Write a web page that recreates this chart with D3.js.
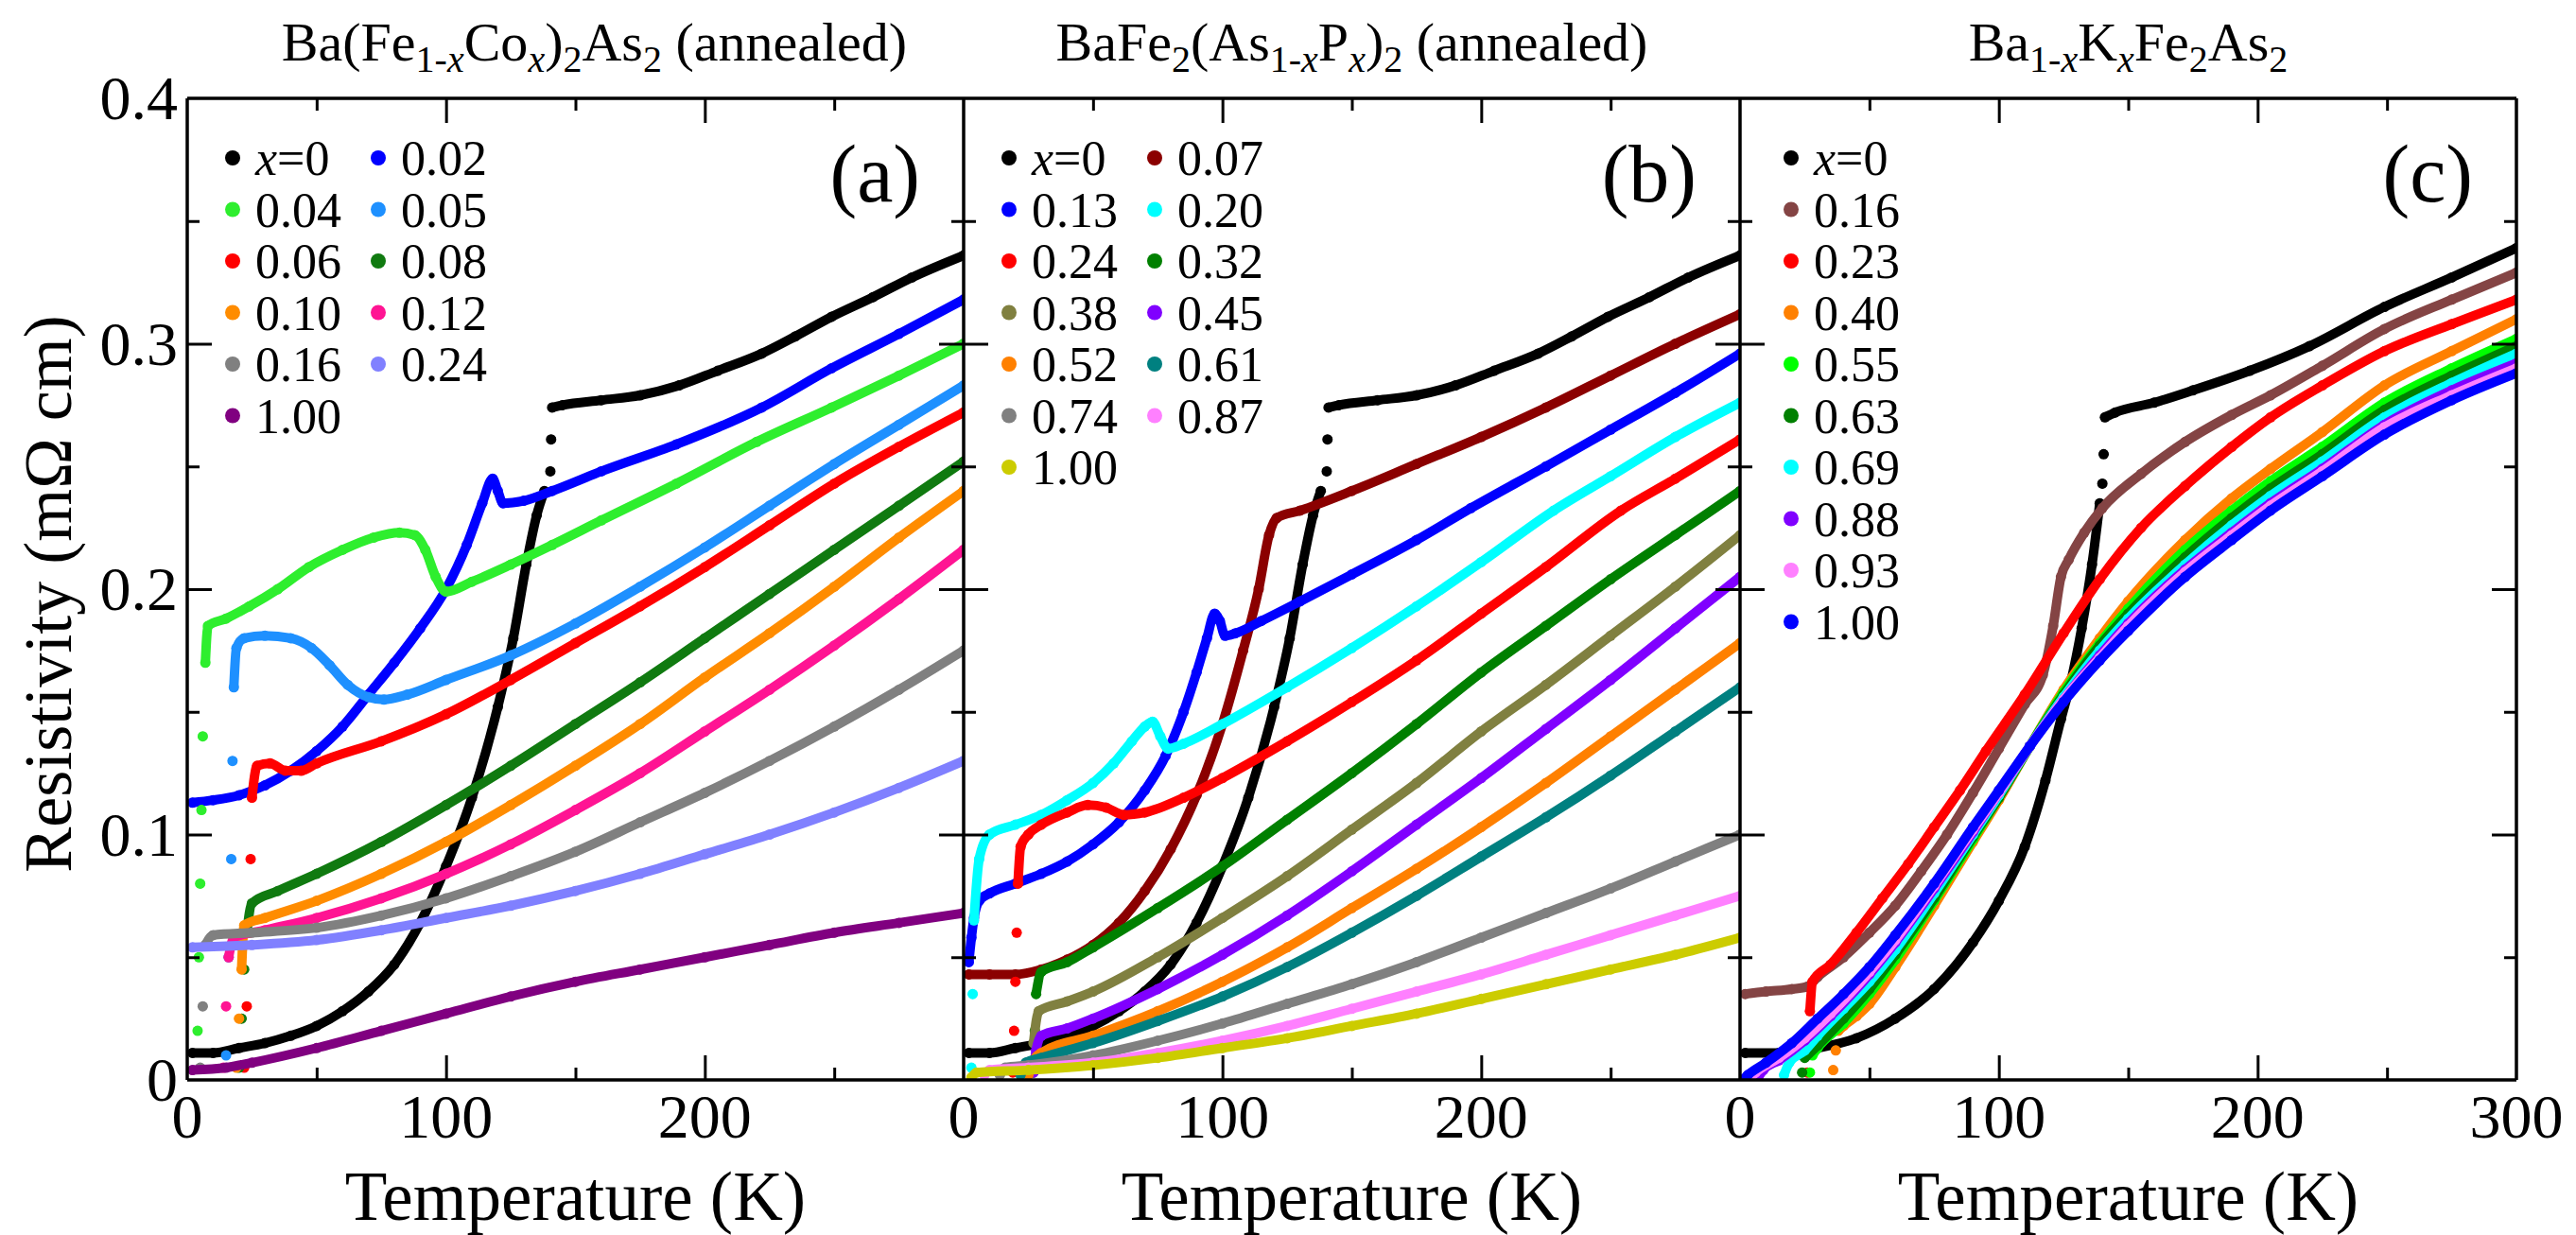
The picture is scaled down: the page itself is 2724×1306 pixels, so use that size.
<!DOCTYPE html>
<html><head><meta charset="utf-8">
<script src="https://cdn.jsdelivr.net/npm/d3@7"></script>
<style>
body{margin:0;background:#fff}
svg{display:block}
text{font-family:"Liberation Serif","Times New Roman",serif;fill:#000}
</style>
</head><body>
<svg id="chart" width="2724" height="1306"></svg>
<script>
// ---------------- DATA ----------------
const xTickMajor = [100, 200];
const xTickMinor = [50, 150, 250];
const yTickMajor = [0.1, 0.2, 0.3];
const yTickMinor = [0.05, 0.15, 0.25, 0.35];
const yTickLabels = [0, 0.1, 0.2, 0.3, 0.4];
const xTickLabelsA = [0, 100, 200];
const xTickLabelsB = [0, 100, 200];
const xTickLabelsC = [0, 100, 200, 300];

const labelsA = ["x=0","0.02","0.04","0.05","0.06","0.08","0.10","0.12","0.16","0.24","1.00"];
const colorsA = ["#000000","#0000ff","#2eee2e","#1e90ff","#ff0000","#107a10","#ff8c00","#ff1493","#808080","#8080ff","#800080"];
const labelsB = ["x=0","0.07","0.13","0.20","0.24","0.32","0.38","0.45","0.52","0.61","0.74","0.87","1.00"];
const colorsB = ["#000000","#8b0000","#0000ff","#00ffff","#ff0000","#008000","#808040","#8000ff","#ff8000","#008080","#808080","#ff80ff","#cccc00"];
const labelsC = ["x=0","0.16","0.23","0.40","0.55","0.63","0.69","0.88","0.93","1.00"];
const colorsC = ["#000000","#844444","#ff0000","#ff8000","#00ff00","#008000","#00ffff","#8000ff","#ff80ff","#0000ff"];

// Panel (a): Ba(Fe1-xCox)2As2 ; [T (K), rho (mOhm cm)], null = gap between measured points
const A_000 = [[2,0.011],[10,0.011],[20,0.013],[30,0.015],[40,0.018],[50,0.022],[60,0.028],[70,0.036],[80,0.047],[90,0.064],[100,0.087],[110,0.115],[120,0.152],[126,0.18],[131,0.21],[135,0.23],[138,0.24],null,[140.3,0.248],null,[140.6,0.261],null,[141,0.274],[145,0.275],[160,0.277],[175,0.279],[190,0.283],[205,0.289],[222,0.296],[235,0.303],[249,0.311],[265,0.319],[280,0.327],[300,0.336]];
const A_002 = [[2,0.113],[10,0.114],[20,0.116],[30,0.12],[40,0.126],[50,0.134],[60,0.144],[70,0.157],[80,0.17],[90,0.184],[100,0.2],[108,0.218],[114,0.235],[118,0.245],[120,0.24],[122,0.235],[130,0.236],[141,0.24],[160,0.248],[189,0.259],[222,0.274],[249,0.29],[275,0.304],[300,0.318]];
const A_004 = [[4,0.02],null,[4.5,0.05],null,[5,0.08],null,[5.5,0.11],null,[6,0.14],null,[7,0.17],[8,0.185],[15,0.188],[24,0.193],[35,0.2],[47,0.209],[60,0.216],[72,0.221],[82,0.223],[88,0.222],[92,0.216],[96,0.205],[100,0.199],[110,0.203],[125,0.21],[141,0.218],[160,0.228],[189,0.243],[220,0.26],[249,0.274],[275,0.287],[300,0.3]];
const A_005 = [[15,0.01],null,[16,0.05],null,[17,0.09],null,[17.5,0.13],null,[18,0.16],[19,0.176],[22,0.18],[30,0.181],[40,0.18],[48,0.176],[55,0.169],[62,0.161],[70,0.156],[76,0.155],[85,0.157],[100,0.163],[125,0.173],[150,0.186],[175,0.201],[200,0.217],[225,0.234],[250,0.251],[275,0.267],[300,0.283]];
const A_006 = [[22,0.005],null,[23,0.03],null,[24,0.06],null,[24.5,0.09],null,[25,0.115],[27,0.128],[32,0.129],[38,0.126],[44,0.126],[50,0.129],[75,0.138],[100,0.149],[125,0.163],[150,0.178],[175,0.193],[200,0.209],[225,0.226],[250,0.243],[275,0.258],[300,0.272]];
const A_008 = [[20,0.005],null,[21,0.025],null,[22,0.045],null,[23,0.06],[25,0.072],[35,0.077],[50,0.084],[75,0.097],[100,0.112],[125,0.128],[150,0.145],[175,0.162],[200,0.18],[225,0.198],[250,0.216],[275,0.234],[300,0.252]];
const A_010 = [[19,0.005],null,[20,0.025],null,[21,0.045],[22,0.063],[30,0.066],[50,0.073],[75,0.084],[100,0.097],[125,0.112],[150,0.128],[175,0.145],[200,0.164],[225,0.182],[250,0.201],[275,0.221],[300,0.24]];
const A_012 = [[14,0.005],null,[15,0.03],null,[16,0.05],[18,0.058],[30,0.061],[50,0.066],[75,0.074],[100,0.084],[125,0.096],[150,0.11],[175,0.125],[200,0.142],[225,0.159],[250,0.177],[275,0.196],[300,0.216]];
const A_016 = [[5,0.005],null,[6,0.03],null,[7,0.055],[10,0.059],[25,0.06],[50,0.062],[75,0.067],[100,0.074],[125,0.083],[150,0.093],[175,0.105],[200,0.117],[225,0.13],[250,0.144],[275,0.159],[300,0.175]];
const A_024 = [[2,0.054],[25,0.055],[50,0.057],[75,0.061],[100,0.066],[125,0.071],[150,0.077],[175,0.084],[200,0.092],[225,0.1],[250,0.109],[275,0.119],[300,0.13]];
const A_100 = [[2,0.004],[15,0.005],[25,0.007],[50,0.013],[75,0.02],[100,0.027],[125,0.034],[150,0.04],[175,0.045],[200,0.05],[225,0.055],[250,0.06],[275,0.064],[300,0.068]];

// Panel (b): BaFe2(As1-xPx)2
const B_000 = A_000;
const B_007 = [[2,0.043],[10,0.043],[20,0.043],[30,0.045],[40,0.049],[50,0.055],[60,0.064],[70,0.077],[80,0.094],[90,0.116],[100,0.145],[108,0.175],[114,0.2],[118,0.222],[121,0.229],[130,0.232],[150,0.24],[175,0.251],[200,0.262],[225,0.274],[250,0.287],[275,0.3],[300,0.312]];
const B_013 = [[2,0.048],[3,0.058],[4,0.066],[6,0.073],[10,0.076],[20,0.08],[30,0.084],[40,0.089],[50,0.096],[60,0.105],[70,0.118],[78,0.132],[85,0.15],[90,0.166],[94,0.18],[97,0.19],[99,0.187],[101,0.181],[105,0.182],[115,0.187],[130,0.195],[150,0.206],[175,0.22],[196,0.233],[225,0.25],[250,0.265],[275,0.28],[300,0.296]];
const B_020 = [[3,0.005],null,[3.5,0.035],null,[4,0.065],[6,0.09],[10,0.1],[20,0.104],[30,0.108],[40,0.114],[50,0.121],[58,0.129],[65,0.138],[70,0.144],[73,0.146],[76,0.14],[79,0.135],[85,0.137],[100,0.145],[125,0.16],[150,0.176],[175,0.193],[200,0.211],[228,0.232],[250,0.246],[275,0.262],[300,0.276]];
const B_024 = [[19,0.003],null,[19.5,0.02],null,[20,0.04],null,[20.5,0.06],null,[21,0.08],[22,0.095],[25,0.1],[30,0.104],[40,0.109],[48,0.112],[55,0.111],[62,0.108],[70,0.109],[85,0.115],[100,0.123],[125,0.138],[150,0.154],[175,0.171],[200,0.19],[225,0.209],[254,0.232],[275,0.245],[300,0.261]];
const B_032 = [[27,0.003],null,[27.5,0.02],null,[28,0.035],[30,0.044],[40,0.048],[50,0.054],[75,0.07],[100,0.087],[125,0.106],[150,0.125],[175,0.145],[200,0.166],[225,0.185],[250,0.204],[275,0.222],[300,0.24]];
const B_038 = [[26,0.003],null,[27,0.015],[29,0.028],[40,0.032],[50,0.036],[75,0.05],[100,0.066],[125,0.083],[150,0.102],[175,0.121],[200,0.142],[225,0.161],[250,0.181],[275,0.201],[300,0.222]];
const B_045 = [[27,0.003],[28,0.012],[30,0.018],[40,0.021],[50,0.025],[75,0.037],[100,0.051],[125,0.067],[150,0.085],[175,0.104],[200,0.123],[225,0.143],[250,0.163],[275,0.184],[300,0.205]];
const B_052 = [[25,0.002],[27,0.008],[30,0.011],[50,0.018],[75,0.028],[100,0.04],[125,0.054],[150,0.07],[175,0.086],[200,0.103],[225,0.121],[250,0.14],[275,0.159],[300,0.178]];
const B_061 = [[22,0.002],[24,0.007],[30,0.009],[50,0.015],[75,0.024],[100,0.034],[125,0.046],[150,0.06],[175,0.075],[200,0.091],[225,0.107],[250,0.124],[275,0.142],[300,0.16]];
const B_074 = [[14,0.002],[16,0.005],[25,0.006],[50,0.01],[75,0.016],[100,0.023],[125,0.031],[150,0.039],[175,0.048],[200,0.058],[225,0.068],[250,0.078],[275,0.089],[300,0.1]];
const B_087 = [[8,0.002],[10,0.004],[25,0.005],[50,0.007],[75,0.011],[100,0.016],[125,0.022],[150,0.029],[175,0.036],[200,0.043],[225,0.051],[250,0.059],[275,0.067],[300,0.075]];
const B_100 = [[3,0.001],[5,0.003],[25,0.004],[50,0.006],[75,0.009],[100,0.013],[125,0.017],[150,0.022],[175,0.027],[200,0.033],[225,0.039],[250,0.045],[275,0.051],[300,0.058]];

// Panel (c): Ba1-xKxFe2As2
const C_000 = [[2,0.011],[15,0.011],[30,0.013],[45,0.017],[60,0.025],[75,0.037],[90,0.056],[100,0.073],[110,0.095],[118,0.122],[124,0.147],[128,0.163],[132,0.184],[136,0.21],[139,0.235],null,[140,0.243],null,[140.5,0.255],null,[141,0.27],[145,0.272],[160,0.276],[175,0.281],[197,0.289],[220,0.299],[249,0.315],[275,0.327],[300,0.339]];
const C_016 = [[2,0.035],[10,0.036],[20,0.037],[26,0.038],[30,0.042],[40,0.05],[50,0.06],[60,0.071],[70,0.085],[80,0.1],[90,0.117],[100,0.135],[110,0.153],[117,0.165],[121,0.185],[124,0.205],[127,0.212],[133,0.223],[140,0.233],[155,0.247],[172,0.26],[190,0.271],[205,0.279],[225,0.291],[249,0.306],[275,0.318],[300,0.329]];
const C_023 = [[26,0.003],null,[26.5,0.015],null,[27,0.028],[28,0.04],[35,0.047],[45,0.06],[55,0.074],[65,0.088],[75,0.103],[85,0.118],[95,0.134],[110,0.157],[125,0.182],[139,0.204],[155,0.225],[172,0.242],[190,0.258],[205,0.27],[225,0.283],[249,0.297],[275,0.308],[300,0.318]];
const C_040 = [[36,0.004],null,[37,0.012],null,[38,0.02],[40,0.022],[45,0.026],[50,0.031],[60,0.046],[75,0.071],[90,0.097],[100,0.114],[112,0.136],[125,0.159],[139,0.18],[150,0.195],[172,0.22],[190,0.237],[205,0.249],[225,0.264],[249,0.283],[275,0.297],[300,0.31]];
const C_055 = [[27,0.003],null,[28,0.01],[30,0.013],[40,0.023],[50,0.035],[60,0.049],[75,0.073],[90,0.098],[100,0.115],[112,0.136],[125,0.158],[139,0.178],[150,0.192],[172,0.216],[190,0.232],[205,0.244],[225,0.258],[249,0.276],[275,0.29],[300,0.302]];
const C_063 = [[24,0.003],null,[25,0.009],[30,0.014],[40,0.025],[50,0.037],[60,0.051],[75,0.074],[90,0.099],[100,0.115],[112,0.136],[125,0.157],[139,0.177],[150,0.19],[172,0.213],[190,0.229],[205,0.241],[225,0.255],[249,0.273],[275,0.287],[300,0.299]];
const C_069 = [[17,0.002],[19,0.007],[25,0.012],[30,0.018],[40,0.029],[50,0.04],[60,0.053],[75,0.076],[90,0.1],[100,0.116],[112,0.136],[125,0.156],[139,0.175],[150,0.188],[172,0.21],[190,0.226],[205,0.238],[225,0.252],[249,0.27],[275,0.284],[300,0.296]];
const C_088 = [[7,0.001],[9,0.004],[15,0.008],[25,0.016],[35,0.026],[50,0.043],[60,0.056],[75,0.078],[90,0.101],[100,0.117],[112,0.136],[125,0.155],[139,0.173],[150,0.186],[172,0.208],[190,0.223],[205,0.235],[225,0.249],[249,0.267],[275,0.281],[300,0.292]];
const C_093 = [[4,0.001],[6,0.003],[15,0.009],[25,0.017],[35,0.027],[50,0.044],[60,0.057],[75,0.079],[90,0.102],[100,0.117],[112,0.136],[125,0.155],[139,0.172],[150,0.185],[172,0.207],[190,0.222],[205,0.234],[225,0.248],[249,0.266],[275,0.279],[300,0.29]];
const C_100 = [[1,0.0],[3,0.002],[10,0.007],[20,0.015],[30,0.025],[40,0.035],[50,0.046],[60,0.059],[75,0.08],[90,0.103],[100,0.118],[112,0.136],[125,0.154],[139,0.171],[150,0.183],[172,0.205],[190,0.22],[205,0.232],[225,0.246],[249,0.263],[275,0.277],[300,0.288]];

const seriesA = [A_000,A_002,A_004,A_005,A_006,A_008,A_010,A_012,A_016,A_024,A_100];
const seriesB = [B_000,B_007,B_013,B_020,B_024,B_032,B_038,B_045,B_052,B_061,B_074,B_087,B_100];
const seriesC = [C_000,C_016,C_023,C_040,C_055,C_063,C_069,C_088,C_093,C_100];

// ---------------- LAYOUT ----------------
const W = 2724, H = 1306;
const L = 198, R = 2661, T = 104, B = 1142;
const PW = (R - L) / 3;
const FONT = '"Liberation Serif","Times New Roman",serif';

const svg = d3.select("#chart");
svg.append("rect").attr("width", W).attr("height", H).attr("fill", "#fff");
const defs = svg.append("defs");

const titles = [
  [["Ba(Fe",0,0],["1-",1,0],["x",1,1],["Co",0,0],["x",1,1],[")",0,0],["2",1,0],["As",0,0],["2",1,0],[" (annealed)",0,0]],
  [["BaFe",0,0],["2",1,0],["(As",0,0],["1-",1,0],["x",1,1],["P",0,0],["x",1,1],[")",0,0],["2",1,0],[" (annealed)",0,0]],
  [["Ba",0,0],["1-",1,0],["x",1,1],["K",0,0],["x",1,1],["Fe",0,0],["2",1,0],["As",0,0],["2",1,0]]
];

const panels = [
  {labels: labelsA, colors: colorsA, series: seriesA, xLabels: xTickLabelsA, cols: 2, letter: "(a)"},
  {labels: labelsB, colors: colorsB, series: seriesB, xLabels: xTickLabelsB, cols: 2, letter: "(b)"},
  {labels: labelsC, colors: colorsC, series: seriesC, xLabels: xTickLabelsC, cols: 1, letter: "(c)"}
];

const y = d3.scaleLinear().domain([0, 0.4]).range([B, T]);

panels.forEach((p, i) => {
  const x0 = L + i * PW;
  const x = d3.scaleLinear().domain([0, 300]).range([x0, x0 + PW]);
  const g = svg.append("g");

  defs.append("clipPath").attr("id", "clip" + i)
    .append("rect").attr("x", x0).attr("y", T).attr("width", PW).attr("height", B - T);

  // data
  const dg = g.append("g").attr("clip-path", `url(#clip${i})`);
  const line = d3.line().defined(d => d !== null).x(d => x(d[0])).y(d => y(d[1])).curve(d3.curveMonotoneX);
  p.series.forEach((s, k) => {
    const col = p.colors[k];
    dg.append("path").attr("d", line(s)).attr("fill", "none").attr("stroke", col)
      .attr("stroke-width", 10).attr("stroke-linejoin", "round").attr("stroke-linecap", "round");
    dg.selectAll(null).data(s.filter(d => d !== null)).join("circle")
      .attr("cx", d => x(d[0])).attr("cy", d => y(d[1])).attr("r", 5.5).attr("fill", col);
  });

  // ticks (inward)
  const tick = (axis, size, vals, tr) => {
    const a = g.append("g").attr("transform", tr).call(axis.tickValues(vals).tickSize(-size).tickFormat(""));
    a.select(".domain").remove();
    a.selectAll("line").attr("stroke", "#000").attr("stroke-width", 3);
  };
  tick(d3.axisBottom(x), 26, xTickMajor, `translate(0,${B})`);
  tick(d3.axisBottom(x), 13, xTickMinor, `translate(0,${B})`);
  tick(d3.axisTop(x), 26, xTickMajor, `translate(0,${T})`);
  tick(d3.axisTop(x), 13, xTickMinor, `translate(0,${T})`);
  tick(d3.axisLeft(y), 26, yTickMajor, `translate(${x0},0)`);
  tick(d3.axisLeft(y), 13, yTickMinor, `translate(${x0},0)`);
  tick(d3.axisRight(y), 26, yTickMajor, `translate(${x0 + PW},0)`);
  tick(d3.axisRight(y), 13, yTickMinor, `translate(${x0 + PW},0)`);

  // x tick labels
  g.selectAll(null).data(p.xLabels).join("text")
    .attr("x", d => x(d)).attr("y", 1203).attr("text-anchor", "middle")
    .attr("font-family", FONT).attr("font-size", 66).text(d => d);

  // x axis title
  g.append("text").attr("x", x0 + PW / 2).attr("y", 1290).attr("text-anchor", "middle")
    .attr("font-family", FONT).attr("font-size", 73).text("Temperature (K)");

  // panel title with subscripts
  const tt = g.append("text").attr("x", x0 + PW / 2 + (i === 0 ? 20 : 0)).attr("y", 64)
    .attr("text-anchor", "middle").attr("font-family", FONT).attr("font-size", 58);
  let shift = 0;
  titles[i].forEach(([t, sub, it]) => {
    const target = sub ? 12 : 0;
    tt.append("tspan").attr("dy", target - shift)
      .attr("font-size", sub ? 40 : 58).attr("font-style", it ? "italic" : "normal").text(t);
    shift = target;
  });

  // panel letter
  g.append("text").attr("x", x0 + PW - 46).attr("y", 213).attr("text-anchor", "end")
    .attr("font-family", FONT).attr("font-size", 86).text(p.letter);

  // legend
  const rowH = 54.5, row0 = 167;
  const colX = [x0 + 48, x0 + 202];
  p.labels.forEach((lab, k) => {
    const c = p.cols === 2 ? k % 2 : 0;
    const r = p.cols === 2 ? Math.floor(k / 2) : k;
    const cy = row0 + r * rowH;
    const cx = colX[c] + (p.cols === 1 ? 6 : 0);
    g.append("circle").attr("cx", cx).attr("cy", cy).attr("r", 8).attr("fill", p.colors[k]);
    const t = g.append("text").attr("x", cx + 24).attr("y", cy + 18)
      .attr("font-family", FONT).attr("font-size", 52);
    if (lab.startsWith("x=")) {
      t.append("tspan").attr("font-style", "italic").text("x");
      t.append("tspan").text("=" + lab.slice(2));
    } else t.text(lab);
  });
});

// frame
const fr = svg.append("g").attr("stroke", "#000").attr("stroke-width", 3.5).attr("fill", "none");
fr.append("line").attr("x1", L).attr("x2", R).attr("y1", T).attr("y2", T);
fr.append("line").attr("x1", L).attr("x2", R).attr("y1", B).attr("y2", B);
[0, 1, 2, 3].forEach(k => fr.append("line").attr("x1", L + k * PW).attr("x2", L + k * PW).attr("y1", T).attr("y2", B));

// y tick labels
svg.append("g").selectAll("text").data(yTickLabels).join("text")
  .attr("x", 188).attr("y", d => y(d) + 22).attr("text-anchor", "end")
  .attr("font-family", FONT).attr("font-size", 66).text(d => d === 0 ? "0" : d.toFixed(1));

// y axis title
svg.append("text").attr("transform", "translate(75,628) rotate(-90)")
  .attr("text-anchor", "middle").attr("font-family", FONT).attr("font-size", 72).text("Resistivity (m\u03A9 cm)");
</script>
</body></html>
